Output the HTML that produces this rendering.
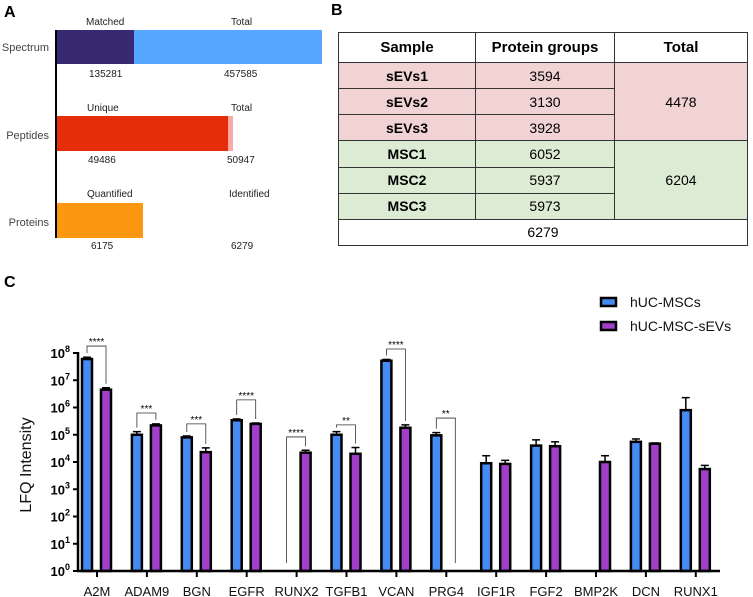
<!DOCTYPE html>
<html><head><meta charset="utf-8"><style>
body{margin:0;background:#fff;font-family:"Liberation Sans",Arial,sans-serif;}
#root{position:relative;width:753px;height:597px;overflow:hidden;}
.abs{position:absolute;}
table{border-collapse:collapse;position:absolute;left:338px;top:32px;width:410px;height:214px;font-size:14px;}
td{border:1px solid #333;text-align:center;padding:0;}
</style></head><body>
<div id="root">
<svg class="abs" style="left:0;top:0" width="330" height="250" font-family="Liberation Sans, Arial, sans-serif">
<text x="4" y="17" font-size="16" font-weight="bold">A</text>
<rect x="56" y="30" width="266" height="34" fill="#55a8fd"/>
<rect x="56" y="30" width="78" height="34" fill="#372a73"/>
<rect x="56" y="116" width="177" height="35" fill="#fbaaaa"/>
<rect x="56" y="116" width="172" height="35" fill="#e52d0a"/>
<rect x="56" y="203" width="87" height="35" fill="#fb9710"/>
<line x1="56" y1="30" x2="56" y2="238" stroke="#000" stroke-width="2"/>
<g font-size="10" fill="#222">
<text x="86" y="25">Matched</text><text x="231" y="25">Total</text>
<text x="89" y="77">135281</text><text x="224" y="77">457585</text>
<text x="87" y="111">Unique</text><text x="231" y="111">Total</text>
<text x="88" y="163">49486</text><text x="227" y="163">50947</text>
<text x="87" y="197">Quantified</text><text x="229" y="197">Identified</text>
<text x="91" y="249">6175</text><text x="231" y="249">6279</text>
</g>
<g font-size="11" fill="#444" text-anchor="end">
<text x="49" y="51">Spectrum</text><text x="49" y="139">Peptides</text><text x="49" y="226">Proteins</text>
</g>
</svg>
<div class="abs" style="left:331px;top:2px;font-size:16px;font-weight:bold">B</div>
<table>
<tr style="height:30px;font-weight:bold;font-size:15px"><td style="width:136px">Sample</td><td style="width:138px">Protein groups</td><td>Total</td></tr>
<tr style="background:#f1d3d3"><td><b>sEVs1</b></td><td>3594</td><td rowspan="3">4478</td></tr>
<tr style="background:#f1d3d3"><td><b>sEVs2</b></td><td>3130</td></tr>
<tr style="background:#f1d3d3"><td><b>sEVs3</b></td><td>3928</td></tr>
<tr style="background:#dcebd3"><td><b>MSC1</b></td><td>6052</td><td rowspan="3">6204</td></tr>
<tr style="background:#dcebd3"><td><b>MSC2</b></td><td>5937</td></tr>
<tr style="background:#dcebd3"><td><b>MSC3</b></td><td>5973</td></tr>
<tr><td colspan="3">6279</td></tr>
</table>
<svg id="chart" class="abs" style="left:0;top:260px" width="753" height="337" font-family="Liberation Sans, Arial, sans-serif"></svg>
</div>
<script>
const categories=["A2M","ADAM9","BGN","EGFR","RUNX2","TGFB1","VCAN","PRG4","IGF1R","FGF2","BMP2K","DCN","RUNX1"];
const mscValues=[6e7,1e5,8e4,3.4e5,null,1e5,5.2e7,9.5e4,9e3,4e4,null,5.5e4,8e5];
const mscErrTop=[7e7,1.3e5,9e4,3.8e5,null,1.3e5,5.8e7,1.2e5,1.7e4,6.5e4,null,7e4,2.3e6];
const evValues=[4.5e6,2.2e5,2.3e4,2.5e5,2.2e4,2e4,1.8e5,null,8.5e3,3.8e4,1e4,4.7e4,5.5e3];
const evErrTop=[5.3e6,2.5e5,3.3e4,2.7e5,2.7e4,3.4e4,2.3e5,null,1.15e4,5.5e4,1.7e4,5e4,7.5e3];
const sigLabels=["****","***","***","****","****","**","****","**",null,null,null,null,null];
const sigLevels=[1.8e8,6.3e5,2.5e5,1.9e6,8.3e4,2.3e5,1.4e8,4.1e5,null,null,null,null,null];
const yTicks=[0,1,2,3,4,5,6,7,8];
const svg=document.getElementById('chart');
const NS='http://www.w3.org/2000/svg';
const OY=260, x0=78, yBase=571-OY, decade=27.25;
function y(v){return yBase-Math.log10(v)*decade;}
function x(i){return 97+i*49.9;}
function mk(t,a,p){const e=document.createElementNS(NS,t);for(const k in a)e.setAttribute(k,a[k]);(p||svg).appendChild(e);return e;}
let e;
e=mk('text',{x:4,y:27,'font-size':16,'font-weight':'bold'});e.textContent='C';


e=mk('text',{transform:`translate(31,${465-OY}) rotate(-90)`,'text-anchor':'middle','font-size':16,fill:'#111'});e.textContent='LFQ Intensity';


yTicks.forEach(p=>{
 const yy=y(Math.pow(10,p));
 mk('line',{x1:x0-5,x2:x0,y1:yy,y2:yy,stroke:'#000','stroke-width':2});
 e=mk('text',{x:x0-8,y:yy+5,'text-anchor':'end','font-size':13,'font-weight':'bold'});
 e.innerHTML='10<tspan font-size="9" dy="-6">'+p+'</tspan>';
 
 
});
categories.forEach((c,i)=>{
 const cx=x(i);
 [[mscValues,mscErrTop,'#458bf3',-10,'msc'],[evValues,evErrTop,'#a13fcb',9,'sev']].forEach(s=>{
  const v=s[0][i]; if(v==null)return;
  const bx=cx+s[3];
  mk('line',{x1:bx,x2:bx,y1:y(s[1][i]),y2:y(v),stroke:'#000','stroke-width':1.5});
  mk('line',{x1:bx-4,x2:bx+4,y1:y(s[1][i]),y2:y(s[1][i]),stroke:'#000','stroke-width':1.5});
  e=mk('rect',{x:bx-5,y:y(v),width:10,height:yBase-y(v),fill:s[2],stroke:'#000','stroke-width':2.5});
  
  
 });
 mk('line',{x1:cx,x2:cx,y1:yBase,y2:yBase+6,stroke:'#000','stroke-width':2});
 e=mk('text',{x:cx,y:596-OY,'text-anchor':'middle','font-size':13,fill:'#111'});e.textContent=c;
 
 
 if(sigLabels[i]){
  const by=y(sigLevels[i]);
  const l=cx-10,r=cx+9;
  const ly=mscValues[i]==null?yBase-8:y(mscErrTop[i])-4;
  const ry=evValues[i]==null?yBase-8:y(evErrTop[i])-4;
  e=mk('path',{d:`M${l},${ly}V${by}H${r}V${ry}`,fill:'none',stroke:'#333','stroke-width':0.8});
  
  
  e=mk('text',{x:(l+r)/2,y:by-1,'text-anchor':'middle','font-size':10});e.textContent=sigLabels[i];
  
  
 }
});
e=mk('line',{x1:x0,x2:x0,y1:y(1e8)-1,y2:yBase+1,stroke:'#000','stroke-width':2.5});


e=mk('line',{x1:x0-1,x2:720,y1:yBase,y2:yBase,stroke:'#000','stroke-width':2.5});


[['hUC-MSCs','#458bf3',302],['hUC-MSC-sEVs','#a13fcb',326]].forEach(l=>{
 const g=mk('g',{});
 
 
 mk('rect',{x:601,y:l[2]-OY-4,width:15,height:8,fill:l[1],stroke:'#000','stroke-width':2.5},g);
 const t=mk('text',{x:630,y:l[2]-OY+5,'font-size':14,fill:'#111'},g);t.textContent=l[0];
});
</script>
</body></html>
